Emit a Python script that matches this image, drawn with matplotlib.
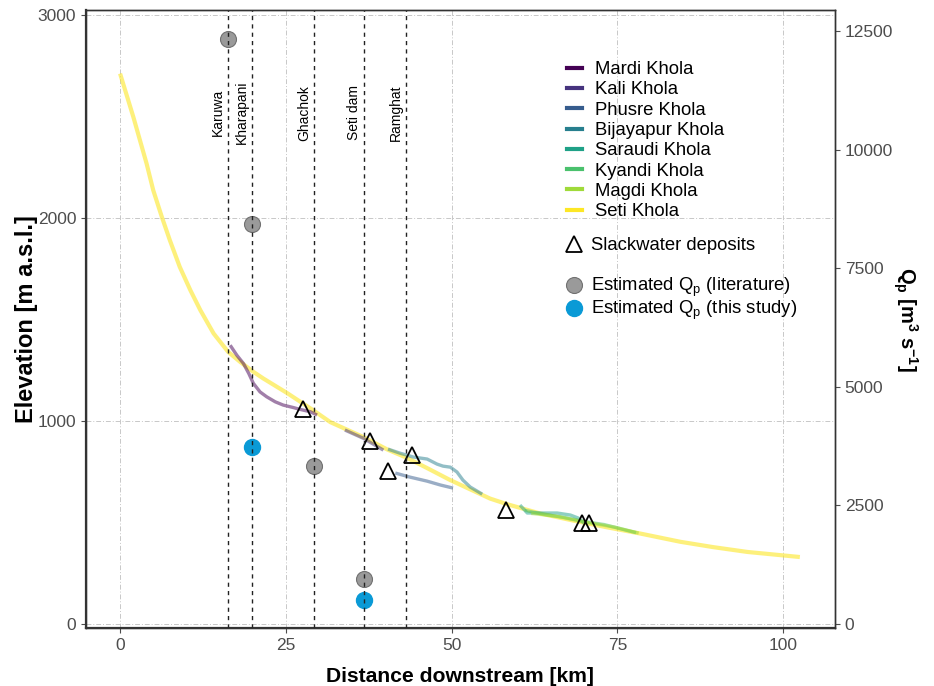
import matplotlib
matplotlib.use("Agg")
import matplotlib.pyplot as plt
from matplotlib.lines import Line2D

plt.rcParams['font.family'] = ['Liberation Sans', 'DejaVu Sans']
plt.rcParams['mathtext.fontset'] = 'custom'
plt.rcParams['mathtext.rm'] = 'Liberation Sans'
plt.rcParams['mathtext.it'] = 'Liberation Sans'
plt.rcParams['mathtext.bf'] = 'Liberation Sans:bold'

# river profiles: distance downstream [km] vs elevation [m a.s.l.]
seti_km = [0, 1.0, 2.0, 3.0, 4.0, 5.0, 6.3, 7.5, 9.0, 10.6, 12.1, 14.1, 16.3, 18.1, 20.1,
           21.6, 25.2, 29.1, 31.7, 36.7, 40.3, 43.3, 46.5, 49.8, 55.8, 58.4, 63.3, 68.3,
           73.5, 78.4, 84.5, 89.4, 94.6, 102.5]
seti_elev = [2713, 2606, 2499, 2384, 2269, 2138, 2006, 1892, 1760, 1645, 1547, 1432, 1341, 1292, 1243,
             1210, 1138, 1054, 995, 921, 860, 818, 765, 709, 618, 590, 545, 510,
             476, 446, 405, 379, 355, 330]

mardi_km = [16.6, 17.6, 18.6, 19.4, 20.1, 21.1, 22.1, 23.4, 24.6, 26.1, 27.1, 28.7, 29.7]
mardi_elev = [1374, 1325, 1284, 1235, 1186, 1144, 1120, 1095, 1079, 1067, 1058, 1046, 1030]

kali_km = [33.9, 36.7, 39.7]
kali_elev = [956, 915, 857]

phusre_km = [41.5, 43.7, 46.3, 48.3, 50.2]
phusre_elev = [744, 724, 704, 685, 670]

bijayapur_km = [40.4, 42.2, 44.2, 46.3, 47.8, 48.7, 49.8, 50.8, 51.7, 52.8, 54.6]
bijayapur_elev = [862, 842, 823, 813, 788, 778, 773, 749, 709, 675, 640]

saraudi_km = [60.3, 61.4, 65.9, 67.9, 69.1, 69.9]
saraudi_elev = [586, 547, 547, 537, 522, 498]

kyandi_km = [61.0, 64.0, 67.0, 70.0, 73.0, 76.0, 77.8]
kyandi_elev = [560, 540, 525, 505, 490, 465, 450]

magdi_km = [62.0, 66.0, 70.5, 74.5, 78.2]
magdi_elev = [545, 530, 500, 478, 448]

# slackwater deposits
slack_km = [27.6, 37.7, 40.4, 44.0, 58.2, 69.7, 70.7]
slack_elev = [1059, 901, 754, 832, 562, 498, 498]

# sites
site_names = ["Karuwa", "Kharapani", "Ghachok", "Seti dam", "Ramghat"]
site_km = [16.3, 19.9, 29.3, 36.8, 43.1]

# peak discharge estimates [m3/s]
lit_km = [16.3, 19.9, 29.3, 36.8]
lit_q = [12350, 8430, 3330, 950]
study_km = [19.9, 36.8]
study_q = [3730, 506]

rivers = ["Mardi Khola", "Kali Khola", "Phusre Khola", "Bijayapur Khola",
          "Saraudi Khola", "Kyandi Khola", "Magdi Khola", "Seti Khola"]
river_colors = ["#440154", "#46337E", "#365C8D", "#277F8E",
                "#1FA187", "#4AC16D", "#9FDA3A", "#FDE725"]

q_factor = 4.28

fig = plt.figure(figsize=(9.34, 6.86), dpi=100)
ax = fig.add_axes([0.092, 0.0845, 0.802, 0.9005])
ax2 = ax.twinx()

grid_kw = dict(color="#c8c8c8", lw=0.7, ls=(0, (5, 2, 1, 2)), zorder=0)
for gx in [0, 25, 50, 75, 100]:
    ax.axvline(gx, **grid_kw)
for gy in [0, 1000, 2000, 3000]:
    ax.axhline(gy, **grid_kw)

ax.plot(seti_km, seti_elev, color=river_colors[7], lw=3, alpha=0.6, solid_capstyle="butt",
        solid_joinstyle="round")
tribs = [(mardi_km, mardi_elev), (kali_km, kali_elev), (phusre_km, phusre_elev),
         (bijayapur_km, bijayapur_elev), (saraudi_km, saraudi_elev),
         (kyandi_km, kyandi_elev), (magdi_km, magdi_elev)]
for (xs, ys), c in zip(tribs, river_colors[:7]):
    ax.plot(xs, ys, color=c, lw=2.4, alpha=0.5, solid_capstyle="butt")

ax.plot(slack_km, slack_elev, ls="none", marker="^", ms=11, mfc="none", mec="black", mew=1.3)

ax.set_xlim(-5.15, 107.8)
ax.set_ylim(-20, 3025)
ax2.set_ylim(-20 * q_factor, 3025 * q_factor)

ax2.plot(lit_km, lit_q, ls="none", marker="o", ms=11.5, mfc="#9a9a9a", mec="#707070", mew=0.8)
ax2.plot(study_km, study_q, ls="none", marker="o", ms=11.5, mfc="#0a9ad6", mec="#0a9ad6")

for name, sx in zip(site_names, site_km):
    ax2.axvline(sx, color="#222222", lw=1.0, ls=(0, (3, 3)))
    ax.annotate(name, (sx, 2520), xytext=(-2.5, 0), textcoords="offset points",
                rotation=90, ha="right", va="center", fontsize=10)

ax.set_xticks([0, 25, 50, 75, 100])
ax.set_yticks([0, 1000, 2000, 3000])
ax2.set_yticks([0, 2500, 5000, 7500, 10000, 12500])
for a in (ax, ax2):
    a.tick_params(labelsize=12.5, colors="#4d4d4d", labelcolor="#4d4d4d", length=3.5, width=0.8)
    for s in a.spines.values():
        s.set_color("#333333")
        s.set_linewidth(1.0)
ax.spines["bottom"].set_linewidth(1.6)
ax.spines["left"].set_linewidth(1.6)

ax.set_xlabel("Distance downstream [km]", fontsize=15.2, fontweight="bold", labelpad=10)
ax.set_ylabel("Elevation [m a.s.l.]", fontsize=17, fontweight="bold", labelpad=0)
ax2.set_ylabel(r"$\mathbf{Q_p\ [m^3\ s^{-1}]}$", fontsize=14.5, rotation=270, labelpad=19)

# legends
line_handles = [Line2D([], [], color=c, lw=3) for c in river_colors]
leg1 = ax2.legend(line_handles, rivers, loc="upper left", bbox_to_anchor=(567 / 934, 1 - 61 / 686),
                  bbox_transform=fig.transFigure, frameon=False, fontsize=13.3,
                  handlelength=0.8, handletextpad=0.7, labelspacing=0.18, borderpad=0, borderaxespad=0)
ax2.add_artist(leg1)
tri_handle = [Line2D([], [], ls="none", marker="^", ms=11, mfc="none", mec="black", mew=1.3)]
leg2 = ax2.legend(tri_handle, ["Slackwater deposits"], loc="upper left",
                  bbox_to_anchor=(567 / 934, 1 - 237 / 686), bbox_transform=fig.transFigure,
                  frameon=False, fontsize=13.3, handlelength=0.8, handletextpad=0.5,
                  borderpad=0, borderaxespad=0)
ax2.add_artist(leg2)
pt_handles = [Line2D([], [], ls="none", marker="o", ms=11.5, mfc="#9a9a9a", mec="#707070", mew=0.8),
              Line2D([], [], ls="none", marker="o", ms=11.5, mfc="#0a9ad6", mec="#0a9ad6")]
ax2.legend(pt_handles, [r"Estimated Q$_\mathrm{p}$ (literature)", r"Estimated Q$_\mathrm{p}$ (this study)"],
           loc="upper left", bbox_to_anchor=(567 / 934, 1 - 276 / 686), bbox_transform=fig.transFigure,
           frameon=False, fontsize=13.3, handlelength=0.8, handletextpad=0.5, labelspacing=0.0,
           borderpad=0, borderaxespad=0)

fig.savefig("out.png", dpi=100)
